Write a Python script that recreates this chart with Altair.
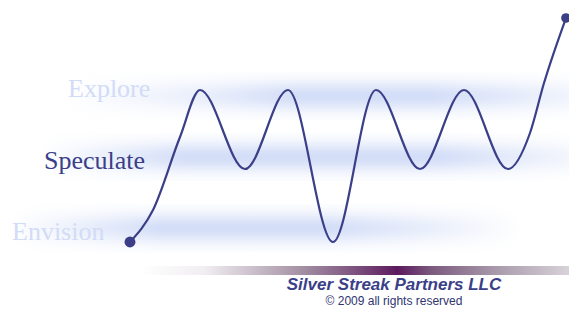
import altair as alt
import pandas as pd
import numpy as np

# ---- data (x = progress, y = level height) ----
line_x = [122, 145, 172, 192, 237, 280, 325, 368, 412, 456, 500, 522, 536, 558]
line_y = [66, 98, 171, 218, 139, 218, 66, 218, 139, 218, 139, 175, 225, 290]

stage_labels = ["Explore", "Speculate", "Envision"]
stage_x = [60, 36, 4]
stage_y = [211, 139, 68]
stage_colors = ["#d2dcf7", "#3b3f88", "#d2dcf7"]

band_levels = [212, 151, 80]          # centre of each soft band
band_x0 = [60, 30, 0]
band_x1 = [561, 561, 515]

bar_x0, bar_x1, bar_y0, bar_y1 = 132, 561, 33, 42

company = "Silver Streak Partners LLC"
copyright_text = "© 2009 all rights reserved"
company_xy = (386, 18)
copy_xy = (386, 3)

NAVY = "#3b3f88"
BLUE = "#ccd8f6"

xs = alt.Scale(domain=[0, 561])
ys = alt.Scale(domain=[0, 300])


def X(f):
    return alt.X(f, type="quantitative", scale=xs, axis=None)


def Y(f):
    return alt.Y(f, type="quantitative", scale=ys, axis=None)


layers = []

# soft bands: stacked thin strips, each with horizontal gradient
band_stops = [
    [(0, "#ffffff"), (0.3, "#e2e9fa"), (0.45, BLUE), (0.72, BLUE), (1, "#eef2fc")],
    [(0, "#ffffff"), (0.28, BLUE), (0.75, BLUE), (1, "#f1f4fc")],
    [(0, "#ffffff"), (0.3, BLUE), (0.62, BLUE), (0.85, "#eaeffb"), (1, "#ffffff")],
]
for lvl, x0, x1, stops in zip(band_levels, band_x0, band_x1, band_stops):
    offs = np.arange(-24, 24, 2)
    df = pd.DataFrame({
        "x": x0, "x2": x1,
        "y": lvl + offs, "y2": lvl + offs + 2,
        "op": np.exp(-((offs + 1) ** 2) / (2 * 10.5 ** 2)) * 0.85,
    })
    grad = alt.Gradient(
        gradient="linear",
        stops=[alt.GradientStop(offset=o, color=c) for o, c in stops],
        x1=0, x2=1, y1=0, y2=0,
    )
    layers.append(
        alt.Chart(df).mark_rect(color=grad, strokeWidth=0).encode(
            x=X("x"), x2="x2", y=Y("y"), y2="y2",
            opacity=alt.Opacity("op:Q", scale=None),
        )
    )

# bottom gradient bar
bar_df = pd.DataFrame({"x": [bar_x0], "x2": [bar_x1], "y": [bar_y0], "y2": [bar_y1]})
bar_grad = alt.Gradient(
    gradient="linear",
    stops=[
        alt.GradientStop(offset=0, color="#ffffff"),
        alt.GradientStop(offset=0.15, color="#f1eef1"),
        alt.GradientStop(offset=0.38, color="#a38fa3"),
        alt.GradientStop(offset=0.51, color="#7a4d7c"),
        alt.GradientStop(offset=0.6, color="#5c1a5e"),
        alt.GradientStop(offset=0.68, color="#7c5a7e"),
        alt.GradientStop(offset=0.83, color="#a99aab"),
        alt.GradientStop(offset=1, color="#d8d2d9"),
    ],
    x1=0, x2=1, y1=0, y2=0,
)
layers.append(
    alt.Chart(bar_df).mark_rect(color=bar_grad).encode(
        x=X("x"), x2="x2", y=Y("y"), y2="y2"
    )
)

# labels
lab_df = pd.DataFrame({"t": stage_labels, "x": stage_x, "y": stage_y, "c": stage_colors})
layers.append(
    alt.Chart(lab_df).mark_text(
        align="left", baseline="alphabetic", font="Liberation Serif", fontSize=26
    ).encode(
        x=X("x"), y=Y("y"), text="t:N", color=alt.Color("c:N", scale=None)
    )
)

# wavy line
line_df = pd.DataFrame({"x": line_x, "y": line_y, "o": range(len(line_x))})
layers.append(
    alt.Chart(line_df).mark_line(
        interpolate="monotone", color=NAVY, strokeWidth=2.2
    ).encode(x=X("x"), y=Y("y"), order="o:O")
)

# end dots
dots_df = pd.DataFrame({"x": [line_x[0], line_x[-1]], "y": [line_y[0], line_y[-1]], "s": [120, 95]})
layers.append(
    alt.Chart(dots_df).mark_circle(color=NAVY, opacity=1).encode(
        x=X("x"), y=Y("y"), size=alt.Size("s:Q", scale=None)
    )
)

# footer texts
foot_df = pd.DataFrame({
    "t": [company], "x": [company_xy[0]], "y": [company_xy[1]]
})
layers.append(
    alt.Chart(foot_df).mark_text(
        align="center", baseline="alphabetic", font="Liberation Sans",
        fontSize=17, fontWeight="bold", fontStyle="italic", color=NAVY
    ).encode(x=X("x"), y=Y("y"), text="t:N")
)
copy_df = pd.DataFrame({"t": [copyright_text], "x": [copy_xy[0]], "y": [copy_xy[1]]})
layers.append(
    alt.Chart(copy_df).mark_text(
        align="center", baseline="alphabetic", font="Liberation Sans",
        fontSize=12, color="#2f3470"
    ).encode(x=X("x"), y=Y("y"), text="t:N")
)

chart = alt.layer(*layers).properties(
    width=561, height=300, padding=0,
    autosize=alt.AutoSizeParams(type="none"),
    background="white",
).configure_view(stroke=None)

chart.save("out.html", embed_options={"renderer": "svg", "actions": False})
